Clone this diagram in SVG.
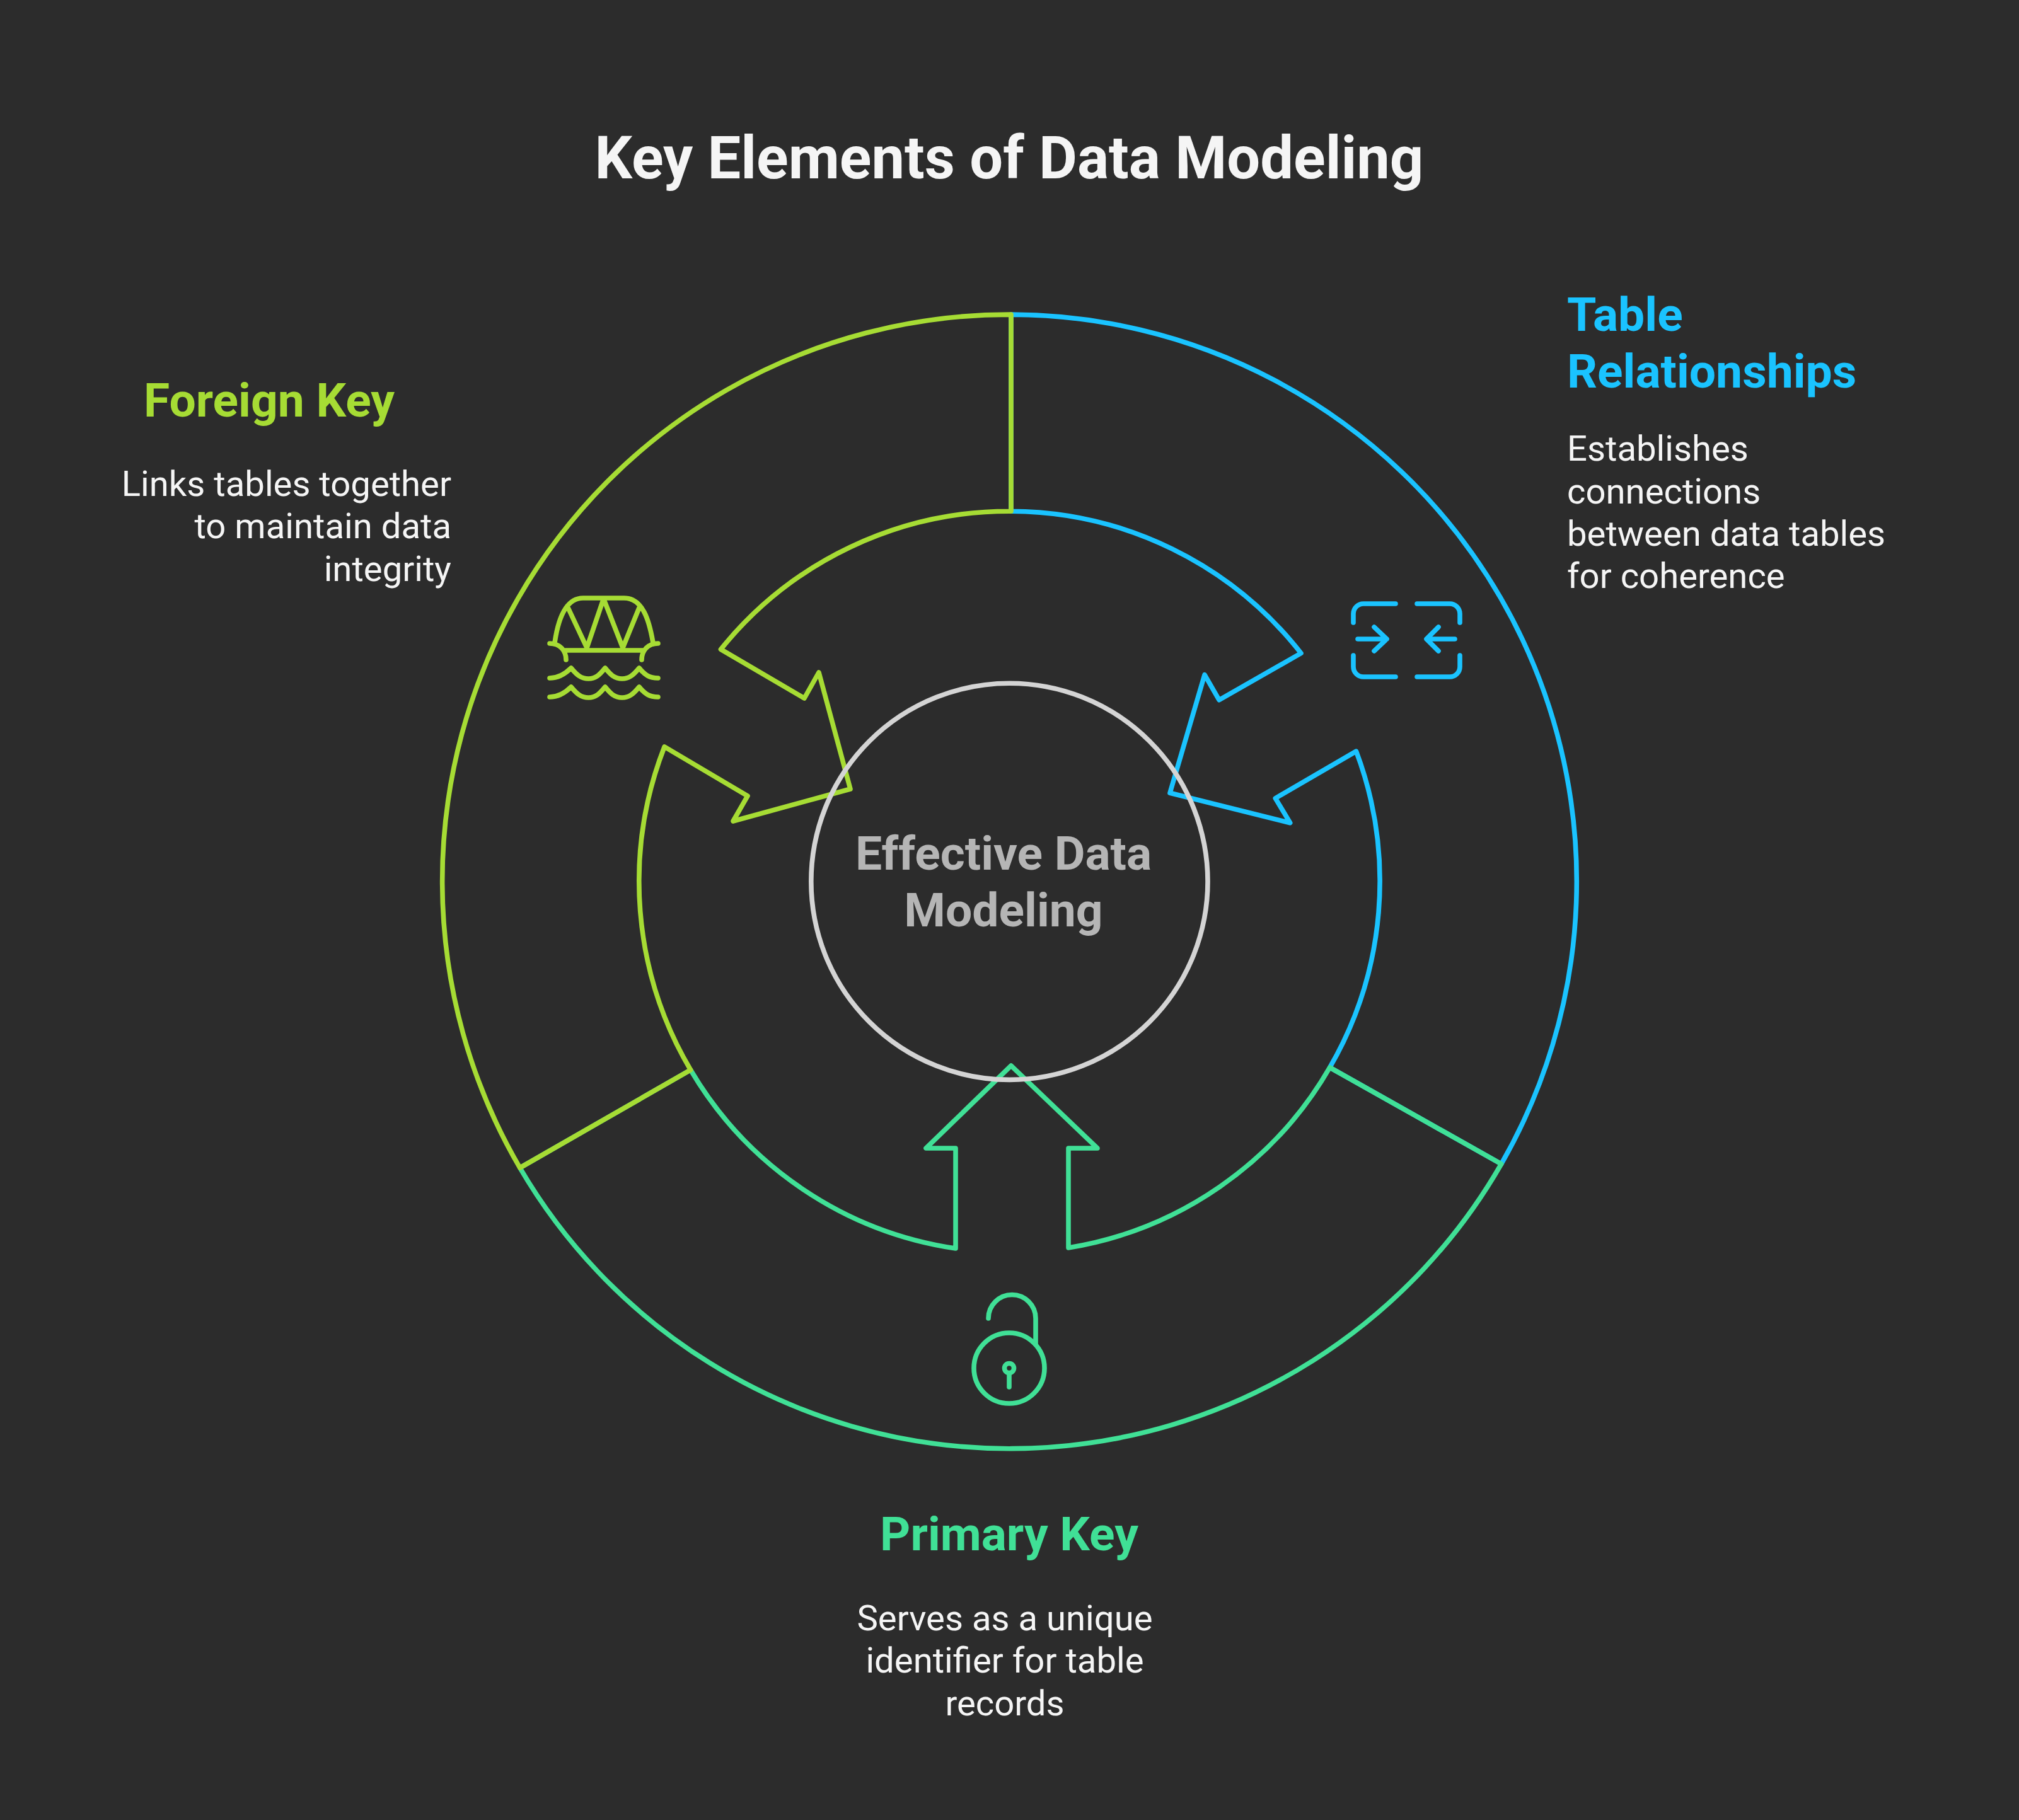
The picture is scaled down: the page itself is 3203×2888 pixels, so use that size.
<svg xmlns="http://www.w3.org/2000/svg" width="3203" height="2888" viewBox="0 0 3203 2888">
<style>
text{font-family:Roboto,"Liberation Sans",sans-serif}
.t{font-size:93.750px;font-weight:700;fill:#f5f5f5}
.h{font-size:75px;font-weight:700}
.b{font-size:56.250px;fill:#f5f5f5}
.l{fill:none;stroke-width:7.600;stroke-linecap:round;stroke-linejoin:round}
.g{stroke:#a6dc34}.c{stroke:#1ac3ff}.p{stroke:#40e096}
</style>
<rect width="3203" height="2888" fill="#2c2c2c"/>
<text class="t" x="1601" y="283.300" text-anchor="middle">Key Elements of Data Modeling</text>
<g id="connectors">
<path class="l c" d="M1604 499.100A899.700 899.700 0 0 1 2381.700 1847L2109.600 1693.900A587.600 587.600 0 0 0 2151.500 1192.100L2023.300 1266.700L2046.700 1305.700L1856 1258.300L1911 1070.700L1934 1110.700L2064 1036.500A587.600 587.600 0 0 0 1604 811.200Z"/>
<path class="l p" d="M824.800 1853.100A899.700 899.700 0 0 0 2381.700 1847L2109.600 1693.900A587.600 587.600 0 0 1 1695 1980V1822H1741L1604 1691L1469 1822H1516V1981A587.600 587.600 0 0 1 1095.600 1697.800Z"/>
<path class="l g" d="M824.800 1853.100A899.700 899.700 0 0 1 1604 499.100V811.200A587.600 587.600 0 0 0 1143.500 1030.400L1276 1108L1299 1067L1349 1252L1163 1303L1186 1263L1054.100 1185A587.600 587.600 0 0 0 1095.600 1697.800Z"/>
</g>
<g id="center"><circle class="l" cx="1601.400" cy="1398.800" r="314.600" stroke="#d4d4d4"/>
<text x="1592" y="1380" text-anchor="middle" class="h" fill="#b5b5b5">Effective Data</text>
<text x="1592" y="1470" text-anchor="middle" class="h" fill="#b5b5b5">Modeling</text></g>
<g id="foreign-key">
<text class="h" x="427" y="660.500" text-anchor="middle" fill="#a6dc34">Foreign Key</text>
<g class="b" text-anchor="end"><text x="716" y="787">Links tables together</text><text x="716" y="854">to maintain data</text><text x="716" y="921.500">integrity</text></g>
<path class="l g" d="M880 1020C885 985 896 949 925 949H990C1020 949 1030 985 1036 1020M897 1032H1022M900 962L931 1028L957.500 950L988 1028L1015 962M872 1021C888 1021 898 1032 898 1047M1044 1021C1028 1021 1018 1032 1018 1047M872 1076C885 1076 895 1071 906 1060C915 1071 922 1077 933.600 1077C945 1077 951 1071 960 1060C969 1071 975 1077 987 1077C998 1077 1005 1071 1014 1060C1023 1071 1030 1076 1044 1076M872 1106C885 1106 895 1101 906 1090C915 1101 922 1107 933.600 1107C945 1107 951 1101 960 1090C969 1101 975 1107 987 1107C998 1107 1005 1101 1014 1090C1023 1101 1030 1106 1044 1106"/>
</g>
<g id="table-relationships">
<text class="h" fill="#1ac3ff"><tspan x="2486" y="525">Table</tspan><tspan x="2486" y="615">Relationships</tspan></text>
<g class="b"><text x="2486" y="731">Establishes</text><text x="2486" y="798.500">connections</text><text x="2486" y="866">between data tables</text><text x="2486" y="933">for coherence</text></g>
<path class="l c" d="M2214 958H2163A16 16 0 0 0 2147 974V988M2248 958H2300A16 16 0 0 1 2316 974V988M2214 1074H2163A16 16 0 0 1 2147 1058V1040M2248 1074H2300A16 16 0 0 0 2316 1058V1040M2154 1014H2200M2180 995L2200 1014L2180 1033M2308 1014H2263M2282 995L2263 1014L2282 1033"/>
</g>
<g id="primary-key">
<text class="h" x="1601" y="2460" text-anchor="middle" fill="#40e096">Primary Key</text>
<g class="b" text-anchor="middle"><text x="1594" y="2586.500">Serves as a unique</text><text x="1594" y="2654">identifier for table</text><text x="1594" y="2721.500">records</text></g>
<path class="l p" d="M1568 2092A37.500 37.500 0 0 1 1643 2092V2133"/>
<circle class="l p" cx="1601" cy="2171" r="56"/><circle class="l p" cx="1601" cy="2171" r="7.500"/><path class="l p" d="M1601 2179V2201"/>
</g>
</svg>
